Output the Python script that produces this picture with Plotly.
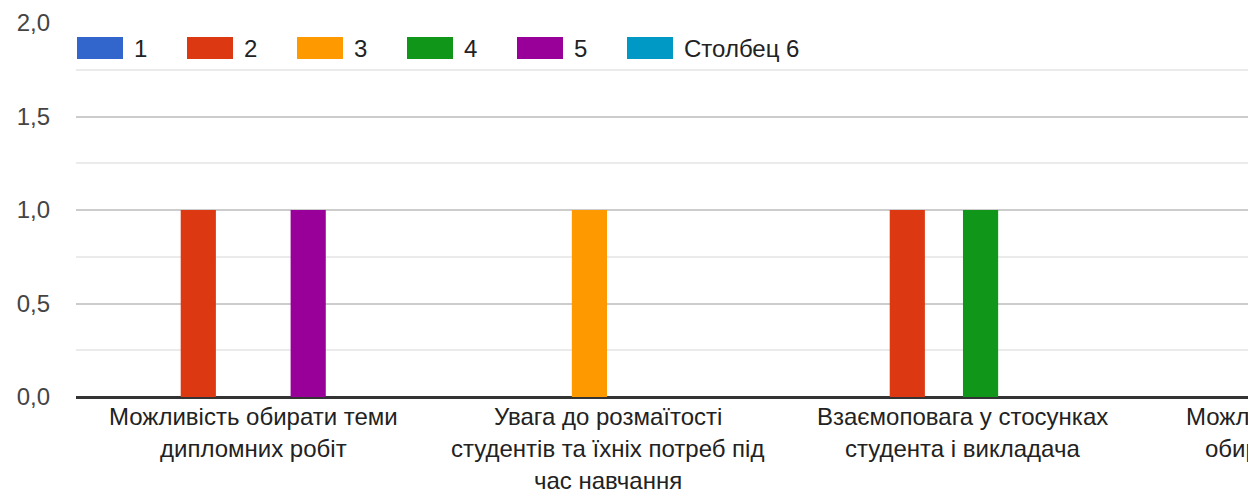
import plotly.graph_objects as go

categories = [
    "Можливість обирати теми\nдипломних робіт",
    "Увага до розмаїтості\nстудентів та їхніх потреб під\nчас навчання",
    "Взаємоповага у стосунках\nстудента і викладача",
    "Можливість самостійно\nобирати дисципліни",
]
series_names = ["1", "2", "3", "4", "5", "Столбец 6"]
series_values = [
    [0, 0, 0, 0],
    [1, 0, 1, 0],
    [0, 1, 0, 0],
    [0, 0, 1, 0],
    [1, 0, 0, 0],
    [0, 0, 0, 0],
]
colors = ["#3366cc", "#dc3912", "#ff9900", "#109618", "#990099", "#0099c6"]
y_ticks = [0, 0.5, 1.0, 1.5, 2.0]

OFF = 8  # page body margin
W, H = 1256 - OFF, 490 - OFF
L, R, T, B = 76 - OFF, 0, 23 - OFF, 93
FONT = "Liberation Sans, Arial, sans-serif"
FS = 24

x_keys = list(range(len(categories)))

fig = go.Figure()
for name, vals, col in zip(series_names, series_values, colors):
    fig.add_trace(go.Bar(x=x_keys, y=vals, name=name, marker_color=col,
                         marker_line_width=0, showlegend=False))

pw = W - L - R
ph = H - T - B
x_range = [-0.5, pw / 354.5 - 0.5]

def px2paper_x(px):
    return (px - OFF - L) / pw

def px2paper_y(py):
    return (H - B - (py - OFF)) / ph

def cat2paper(xi):
    return (xi - x_range[0]) / (x_range[1] - x_range[0])

shapes = []
annotations = []
# custom legend
for i, (name, col) in enumerate(zip(series_names, colors)):
    x0 = 77 + 110 * i
    shapes.append(dict(type="rect", xref="paper", yref="paper",
                       x0=px2paper_x(x0), x1=px2paper_x(x0 + 46),
                       y0=px2paper_y(59), y1=px2paper_y(37),
                       fillcolor=col, line_width=0, layer="above"))
    annotations.append(dict(xref="paper", yref="paper", x=px2paper_x(x0 + 55),
                            y=px2paper_y(48), text=name, showarrow=False,
                            xanchor="left", yanchor="middle",
                            font=dict(family=FONT, size=FS, color="#222222")))

# category labels with custom line spacing
for xi, cat in zip(x_keys, categories):
    for j, line in enumerate(cat.split("\n")):
        annotations.append(dict(xref="paper", yref="paper", x=cat2paper(xi), y=0,
                                text=line, showarrow=False,
                                xanchor="center", yanchor="middle",
                                yshift=-(19 + 32 * j),
                                font=dict(family=FONT, size=FS, color="#222222")))

# right border of the scroll viewport
shapes.append(dict(type="rect", xref="paper", yref="paper",
                   x0=px2paper_x(1252.5), x1=px2paper_x(1257),
                   y0=px2paper_y(491), y1=px2paper_y(-1),
                   fillcolor="#f7f7f7", line=dict(color="#e2e2e2", width=1),
                   layer="above"))

fig.update_layout(
    width=W, height=H,
    margin=dict(l=L, r=R, t=T, b=B, pad=0),
    plot_bgcolor="white", paper_bgcolor="white",
    separators=", ",
    barmode="group", bargap=0.38, bargroupgap=0.04,
    shapes=shapes, annotations=annotations,
    font=dict(family=FONT, size=FS, color="#444444"),
    xaxis=dict(range=x_range, showticklabels=False,
               showgrid=False, zeroline=False, showline=False, ticks="",
               fixedrange=True),
    yaxis=dict(range=[0, 2.0], tickvals=y_ticks, tickformat=".1f",
               showgrid=True, gridcolor="#cccccc", gridwidth=2,
               zeroline=True, zerolinecolor="#333333", zerolinewidth=3,
               minor=dict(dtick=0.25, showgrid=True, gridcolor="#ebebeb", gridwidth=2),
               ticks="", ticklabelstandoff=25,
               tickfont=dict(family=FONT, size=FS, color="#444444")),
)

fig.write_html("out.html")
